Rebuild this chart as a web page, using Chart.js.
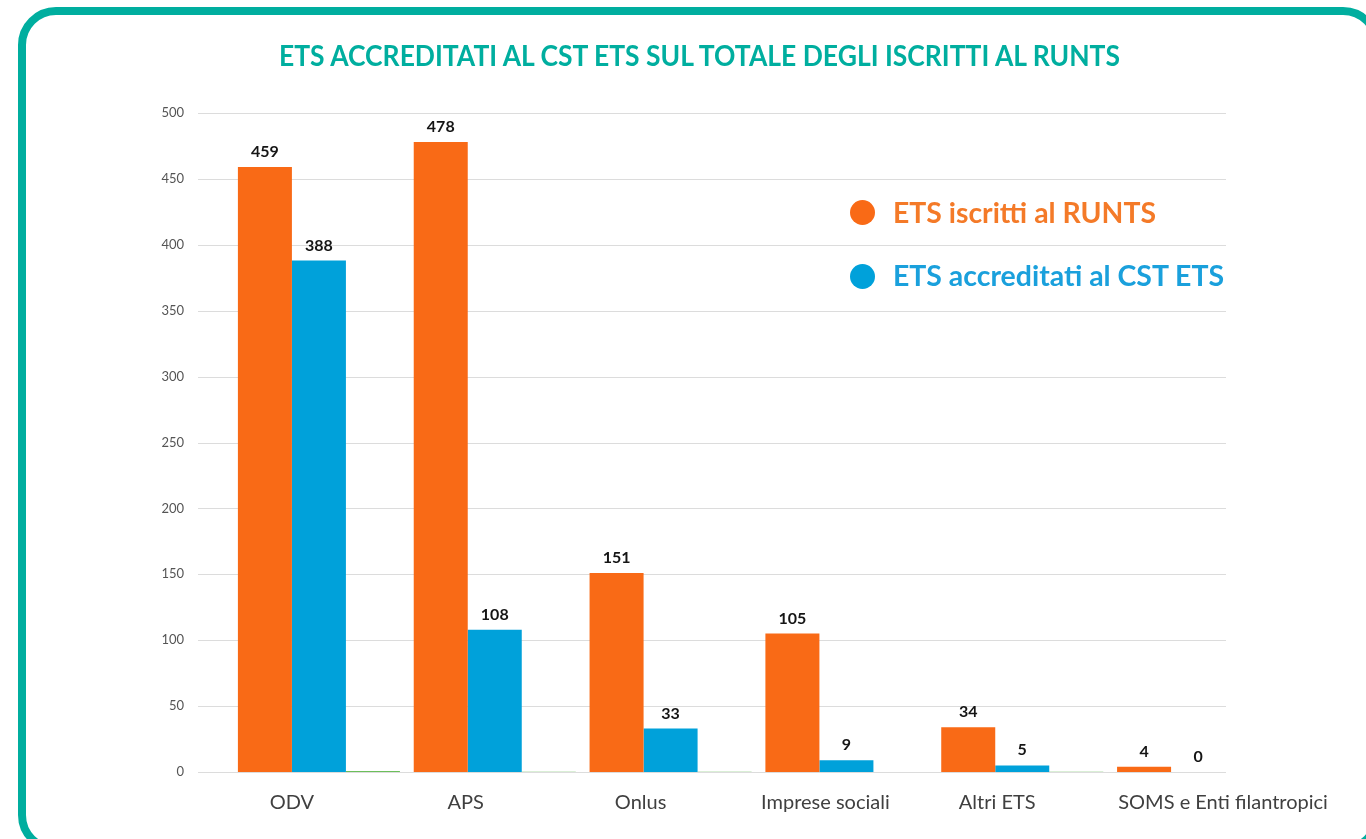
<!DOCTYPE html>
<html>
<head>
<meta charset="utf-8">
<script src="https://cdn.jsdelivr.net/npm/chart.js@4/dist/chart.umd.min.js"></script>
<style>
html,body{margin:0;padding:0;background:#fff;width:1366px;height:839px;overflow:hidden;font-family:Lato,sans-serif}
#frame{position:absolute;left:18px;top:7px;width:1363px;height:846px;box-sizing:border-box;border:8px solid #00ae9f;border-radius:38px}
#chartBox{position:absolute;left:0;top:0;width:1366px;height:839px}
#title{position:absolute;left:279px;top:40px;white-space:nowrap;font-weight:700;font-size:29px;line-height:29px;color:#00ae9f;transform-origin:left top}
.leg{position:absolute;white-space:nowrap;font-weight:700;font-size:28px;line-height:28px;transform-origin:left top}
.dot{position:absolute;width:25px;height:25px;border-radius:50%}
</style>
</head>
<body>
<div id="frame"></div>
<div id="chartBox"><canvas id="c" width="1366" height="839" style="width:1366px;height:839px"></canvas></div>
<div id="title">ETS ACCREDITATI AL CST ETS SUL TOTALE DEGLI ISCRITTI AL RUNTS</div>
<div id="legend"></div>
<script>
const categories = ['ODV', 'APS', 'Onlus', 'Imprese sociali', 'Altri ETS', 'SOMS e Enti filantropici'];
const iscritti = [459, 478, 151, 105, 34, 4];
const accreditati = [388, 108, 33, 9, 5, 0];
const quota = [0.85, 0.23, 0.22, 0.09, 0.15, 0];
const seriesNames = ['ETS iscritti al RUNTS', 'ETS accreditati al CST ETS', 'Quota accreditati'];
const yMin = 0, yMax = 500, yStep = 50;

const barColors = ['#f96a16', '#00a1da', '#6cbf5b'];
const legendTextColors = ['#f47a28', '#1aa0dc'];
// horizontal nudge of each category label (px) relative to the orange/blue pair centre
const labelNudge = [0, -2, -3, 6, 2, 52];

const titleEl = document.getElementById('title');
function fitWidth(el, target){ const w = el.getBoundingClientRect().width; el.style.transform = 'scaleX(' + (target / w) + ')'; }

const hGrid = {
  id: 'hGrid',
  beforeDatasetsDraw(chart) {
    const y = chart.scales.y, ctx = chart.ctx, a = chart.chartArea;
    ctx.save();
    ctx.strokeStyle = '#dcdcdc';
    ctx.lineWidth = 1;
    y.ticks.forEach(t => {
      const py = Math.round(y.getPixelForValue(t.value)) + 0.5;
      ctx.beginPath();
      ctx.moveTo(a.left - 33, py);
      ctx.lineTo(a.right - 60, py);
      ctx.stroke();
    });
    ctx.restore();
  }
};

const xLabels = {
  id: 'xLabels',
  afterDraw(chart) {
    const x = chart.scales.x, ctx = chart.ctx, a = chart.chartArea;
    ctx.save();
    ctx.font = '20px Lato';
    ctx.fillStyle = '#404040';
    ctx.textAlign = 'center';
    ctx.textBaseline = 'middle';
    chart.data.labels.forEach((lab, i) => {
      const m0 = chart.getDatasetMeta(0).data[i], m1 = chart.getDatasetMeta(1).data[i];
      const cx = (m0.x + m1.x) / 2 + labelNudge[i];
      ctx.fillText(lab, cx, a.bottom + 31);
    });
    ctx.restore();
  }
};

const valueLabels = {
  id: 'valueLabels',
  afterDatasetsDraw(chart) {
    const ctx = chart.ctx;
    ctx.save();
    ctx.font = 'bold 16px Lato';
    ctx.fillStyle = '#151515';
    ctx.textAlign = 'center';
    ctx.textBaseline = 'alphabetic';
    [0, 1].forEach(di => {
      const meta = chart.getDatasetMeta(di);
      meta.data.forEach((bar, i) => {
        ctx.fillText(String(chart.data.datasets[di].data[i]), bar.x, bar.y - 10);
      });
    });
    ctx.restore();
  }
};

const chart = new Chart(document.getElementById('c'), {
  type: 'bar',
  data: {
    labels: categories,
    datasets: [
      { label: seriesNames[0], data: iscritti, backgroundColor: barColors[0], categoryPercentage: 0.9215, barPercentage: 1 },
      { label: seriesNames[1], data: accreditati, backgroundColor: barColors[1], categoryPercentage: 0.9215, barPercentage: 1 },
      { label: seriesNames[2], data: quota, backgroundColor: barColors[2], categoryPercentage: 0.9215, barPercentage: 1 }
    ]
  },
  options: {
    responsive: false,
    animation: false,
    devicePixelRatio: 1,
    layout: { padding: { left: 160, right: 80, top: 113, bottom: 0 } },
    plugins: { legend: { display: false }, tooltip: { enabled: false }, title: { display: false } },
    scales: {
      x: {
        grid: { display: false, drawTicks: false },
        border: { display: false },
        ticks: { display: false },
        afterFit(s) { s.height = 67; }
      },
      y: {
        min: yMin, max: yMax,
        ticks: { stepSize: yStep, font: { family: 'Lato', size: 13 }, color: '#555555', padding: 47 },
        grid: { display: false, drawTicks: false },
        border: { display: false },
        afterFit(s) { s.width = 71; }
      }
    }
  },
  plugins: [hGrid, valueLabels, xLabels]
});

const legend = document.getElementById('legend');
const legPos = [{ cy: 212, top: 198 }, { cy: 276, top: 261 }];
const legWidths = [263, 331];
[0, 1].forEach(i => {
  const dot = document.createElement('div');
  dot.className = 'dot';
  dot.style.left = '850px';
  dot.style.top = (legPos[i].cy - 12.5) + 'px';
  dot.style.background = barColors[i];
  legend.appendChild(dot);
  const t = document.createElement('div');
  t.className = 'leg';
  t.style.left = '893px';
  t.style.top = legPos[i].top + 'px';
  t.style.color = legendTextColors[i];
  t.textContent = seriesNames[i];
  legend.appendChild(t);
  fitWidth(t, legWidths[i]);
});
fitWidth(titleEl, 841);
</script>
</body>
</html>
